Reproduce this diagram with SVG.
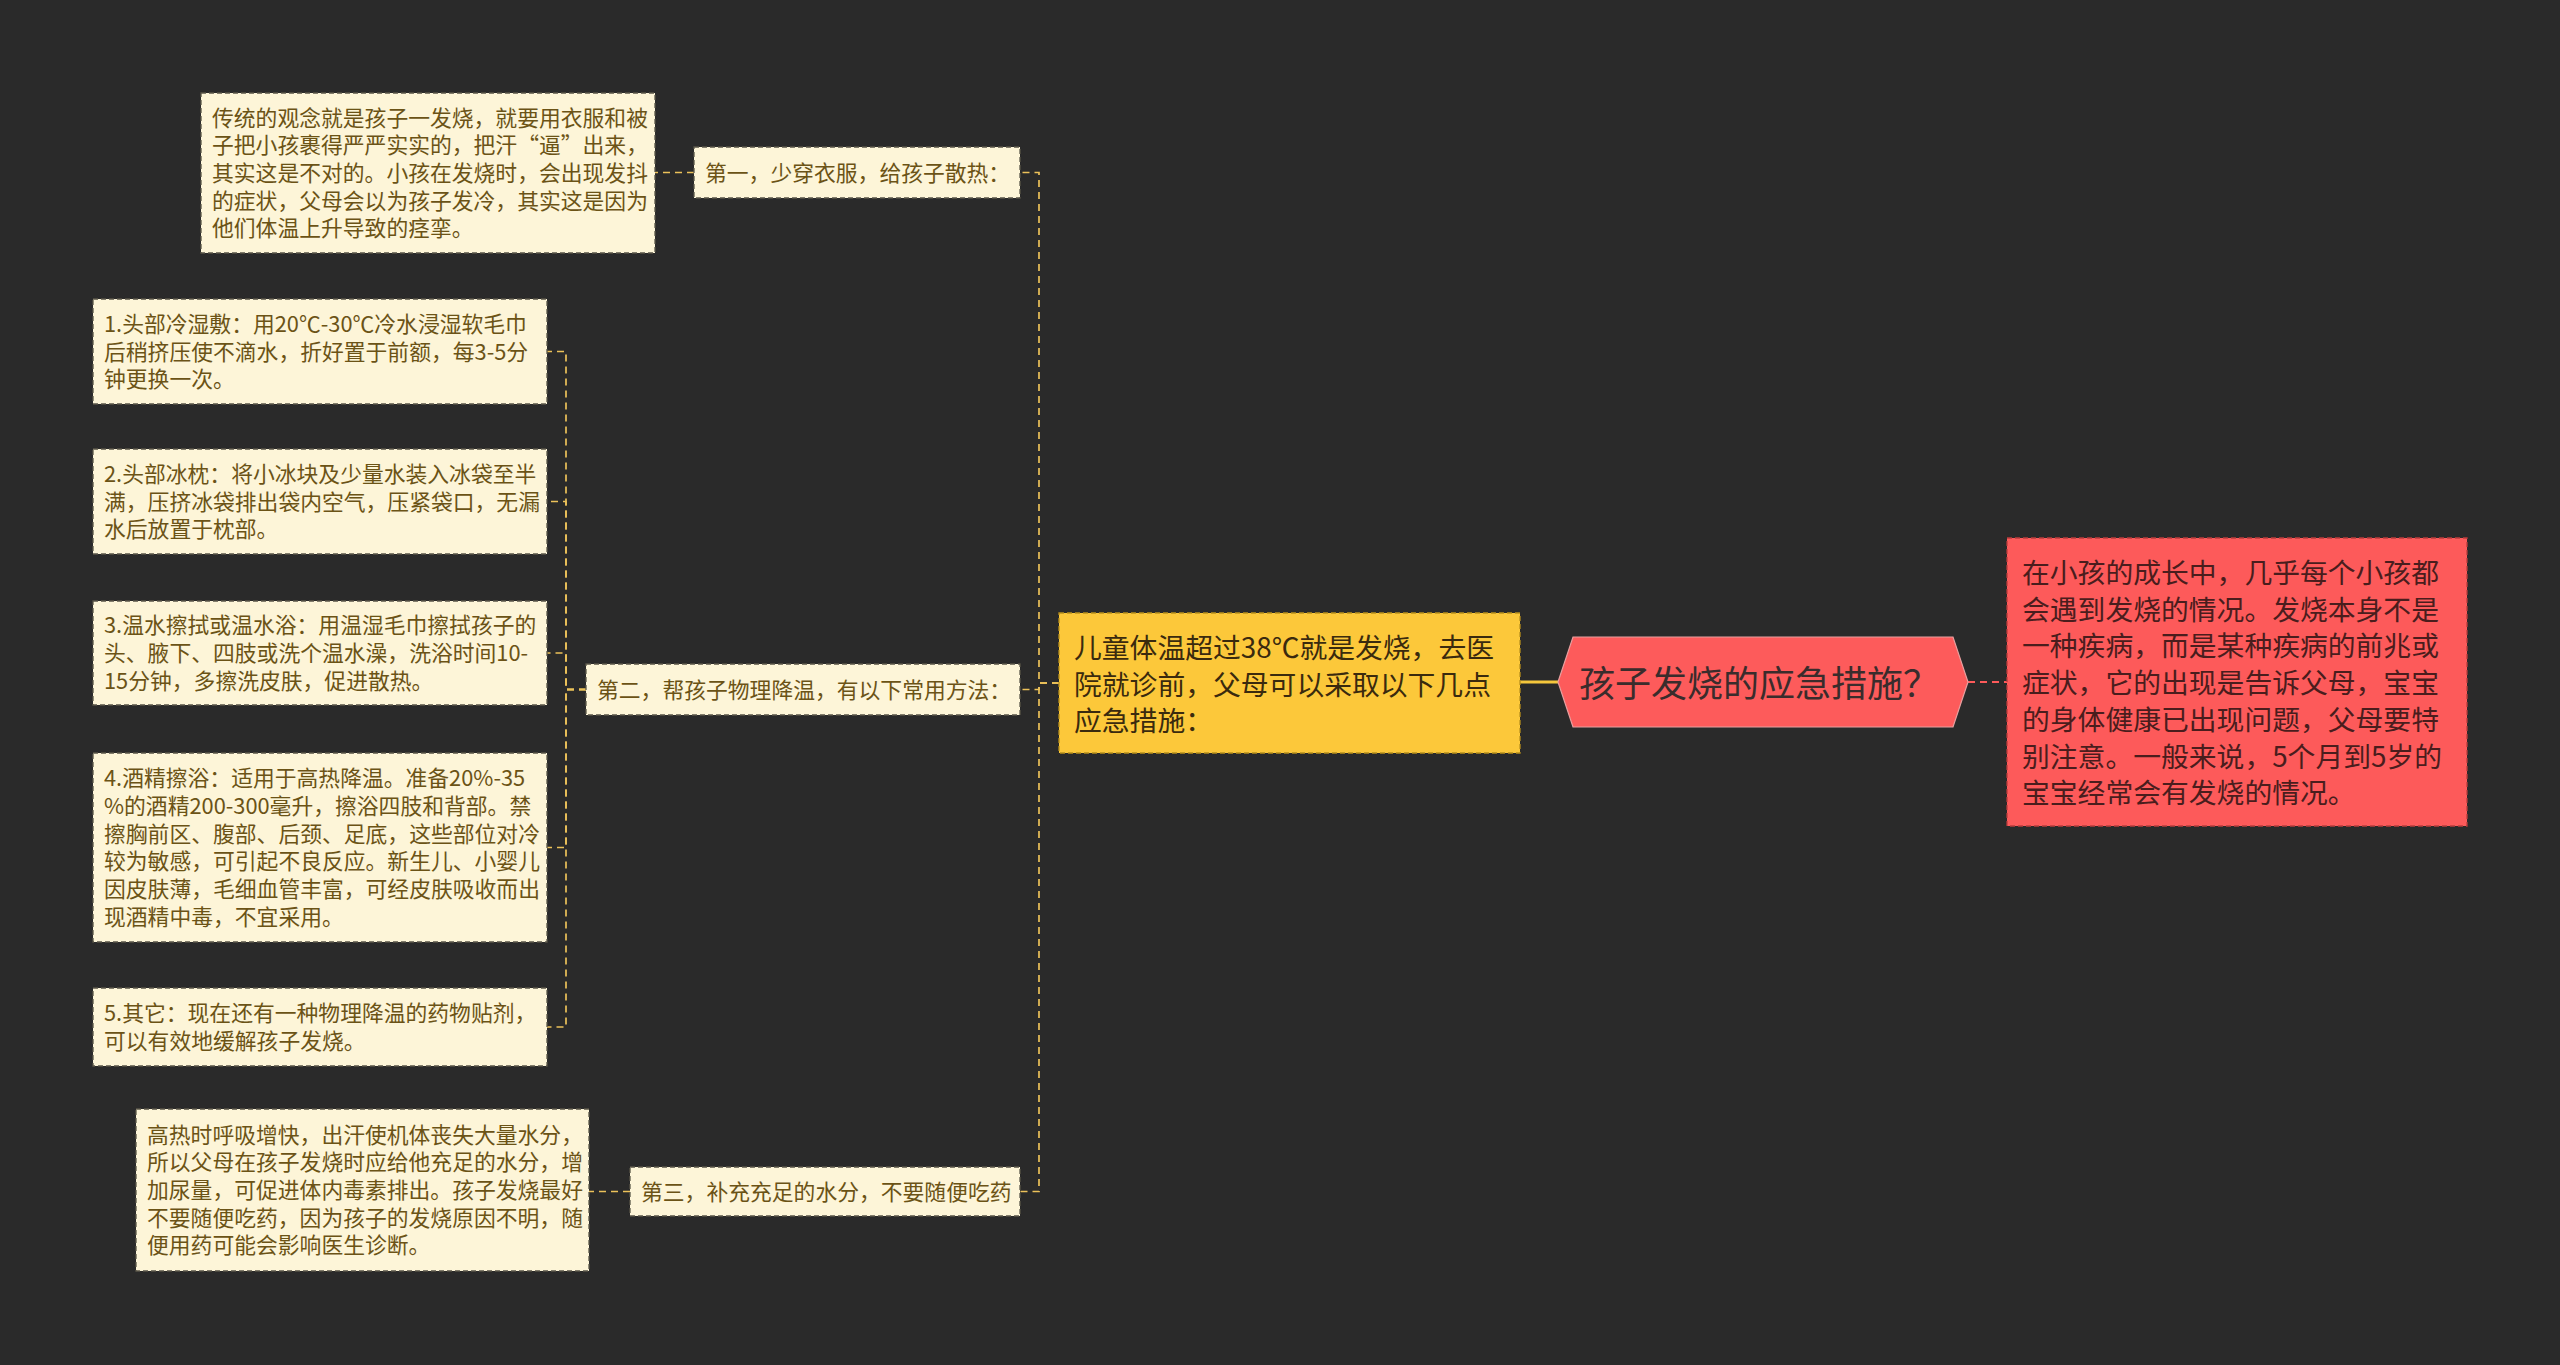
<svg xmlns="http://www.w3.org/2000/svg" width="2560" height="1365" viewBox="0 0 2560 1365">
<style>
.bg{fill:#2a2a2a}
.sn{fill:#fdf5d8;stroke:#5a5648;stroke-width:1.3;stroke-dasharray:5 3}
.st{font-family:"Noto Sans CJK SC","Noto Sans",sans-serif;font-size:21.8px;fill:#6b5316}
.yn{fill:#fcc83a;stroke:#b8901c;stroke-width:1.3;stroke-dasharray:5 3}
.yt{font-family:"Noto Sans CJK SC","Noto Sans",sans-serif;font-size:27.8px;fill:#3a2a0e}
.rn{fill:#fd5a5a;stroke:#b83c3c;stroke-width:1.3;stroke-dasharray:5 3}
.rt{font-family:"Noto Sans CJK SC","Noto Sans",sans-serif;font-size:27.8px;fill:#4a1d1d}
.ct{font-family:"Noto Sans CJK SC","Noto Sans",sans-serif;font-size:36px;fill:#3a2c2c}
.c{fill:none;stroke:#ecc15a;stroke-width:1.7;stroke-dasharray:7 5}
</style>
<rect class="bg" x="0" y="0" width="2560" height="1365"/>
<g id="connectors">
<path d="M1558 682 H1520" fill="none" stroke="#f5c73c" stroke-width="3"/>
<path d="M1968 682 H2007" fill="none" stroke="#fd5a5a" stroke-width="2" stroke-dasharray="7 5"/>
<path class="c" d="M1059 683 H1039 V172.5 H1020"/>
<path class="c" d="M1059 683 H1039 V689.5 H1020"/>
<path class="c" d="M1059 683 H1039 V1191.5 H1020"/>
<path class="c" d="M694 172.5 H655"/>
<path class="c" d="M630 1191.5 H589"/>
<path class="c" d="M586 689.5 H566 V351.5 H547"/>
<path class="c" d="M586 689.5 H566 V501.5 H547"/>
<path class="c" d="M586 689.5 H566 V653 H547"/>
<path class="c" d="M586 689.5 H566 V847.5 H547"/>
<path class="c" d="M586 689.5 H566 V1027 H547"/>
</g>
<g id="root">
<polygon points="1558,682 1573,637 1953,637 1968,682 1953,727 1573,727" fill="#fd5b5b" stroke="#e8a0a0" stroke-width="1.2"/>
<text class="ct" x="1579" y="697">孩子发烧的应急措施？</text>
</g>
<g id="intro">
<rect class="rn" x="2007" y="538" width="460" height="288"/>
<text class="rt" x="2022" y="583"><tspan x="2022">在小孩的成长中，几乎每个小孩都</tspan><tspan x="2022" dy="36.7">会遇到发烧的情况。发烧本身不是</tspan><tspan x="2022" dy="36.7">一种疾病，而是某种疾病的前兆或</tspan><tspan x="2022" dy="36.7">症状，它的出现是告诉父母，宝宝</tspan><tspan x="2022" dy="36.7">的身体健康已出现问题，父母要特</tspan><tspan x="2022" dy="36.7">别注意。一般来说，5个月到5岁的</tspan><tspan x="2022" dy="36.7">宝宝经常会有发烧的情况。</tspan></text>
</g>
<g id="main">
<rect class="yn" x="1059" y="613" width="461" height="140"/>
<text class="yt" x="1074" y="658"><tspan x="1074">儿童体温超过38℃就是发烧，去医</tspan><tspan x="1074" dy="36.7">院就诊前，父母可以采取以下几点</tspan><tspan x="1074" dy="36.7">应急措施：</tspan></text>
</g>
<g id="step1">
<rect class="sn" x="694" y="147" width="326" height="51"/>
<text class="st" x="705" y="181">第一，少穿衣服，给孩子散热：</text>
</g>
<g id="step1-detail">
<rect class="sn" x="201" y="93" width="454" height="160"/>
<text class="st" x="212" y="125.6"><tspan x="212">传统的观念就是孩子一发烧，就要用衣服和被</tspan><tspan x="212" dy="27.7">子把小孩裹得严严实实的，把汗“逼”出来，</tspan><tspan x="212" dy="27.7">其实这是不对的。小孩在发烧时，会出现发抖</tspan><tspan x="212" dy="27.7">的症状，父母会以为孩子发冷，其实这是因为</tspan><tspan x="212" dy="27.7">他们体温上升导致的痉挛。</tspan></text>
</g>
<g id="step2">
<rect class="sn" x="586" y="664" width="434" height="51"/>
<text class="st" x="597" y="698">第二，帮孩子物理降温，有以下常用方法：</text>
</g>
<g id="method1">
<rect class="sn" x="93" y="299" width="454" height="105"/>
<text class="st" x="104" y="331.8"><tspan x="104">1.头部冷湿敷：用20℃-30℃冷水浸湿软毛巾</tspan><tspan x="104" dy="27.7">后稍挤压使不滴水，折好置于前额，每3-5分</tspan><tspan x="104" dy="27.7">钟更换一次。</tspan></text>
</g>
<g id="method2">
<rect class="sn" x="93" y="449" width="454" height="105"/>
<text class="st" x="104" y="481.8"><tspan x="104">2.头部冰枕：将小冰块及少量水装入冰袋至半</tspan><tspan x="104" dy="27.7">满，压挤冰袋排出袋内空气，压紧袋口，无漏</tspan><tspan x="104" dy="27.7">水后放置于枕部。</tspan></text>
</g>
<g id="method3">
<rect class="sn" x="93" y="601" width="454" height="104"/>
<text class="st" x="104" y="633.3"><tspan x="104">3.温水擦拭或温水浴：用温湿毛巾擦拭孩子的</tspan><tspan x="104" dy="27.7">头、腋下、四肢或洗个温水澡，洗浴时间10-</tspan><tspan x="104" dy="27.7">15分钟，多擦洗皮肤，促进散热。</tspan></text>
</g>
<g id="method4">
<rect class="sn" x="93" y="753" width="454" height="189"/>
<text class="st" x="104" y="786.3"><tspan x="104">4.酒精擦浴：适用于高热降温。准备20%-35</tspan><tspan x="104" dy="27.7">%的酒精200-300毫升，擦浴四肢和背部。禁</tspan><tspan x="104" dy="27.7">擦胸前区、腹部、后颈、足底，这些部位对冷</tspan><tspan x="104" dy="27.7">较为敏感，可引起不良反应。新生儿、小婴儿</tspan><tspan x="104" dy="27.7">因皮肤薄，毛细血管丰富，可经皮肤吸收而出</tspan><tspan x="104" dy="27.7">现酒精中毒，不宜采用。</tspan></text>
</g>
<g id="method5">
<rect class="sn" x="93" y="988" width="454" height="78"/>
<text class="st" x="104" y="1021.2"><tspan x="104">5.其它：现在还有一种物理降温的药物贴剂，</tspan><tspan x="104" dy="27.7">可以有效地缓解孩子发烧。</tspan></text>
</g>
<g id="step3">
<rect class="sn" x="630" y="1167" width="390" height="49"/>
<text class="st" x="641" y="1200">第三，补充充足的水分，不要随便吃药</text>
</g>
<g id="step3-detail">
<rect class="sn" x="136" y="1109" width="453" height="162"/>
<text class="st" x="147" y="1142.6"><tspan x="147">高热时呼吸增快，出汗使机体丧失大量水分，</tspan><tspan x="147" dy="27.7">所以父母在孩子发烧时应给他充足的水分，增</tspan><tspan x="147" dy="27.7">加尿量，可促进体内毒素排出。孩子发烧最好</tspan><tspan x="147" dy="27.7">不要随便吃药，因为孩子的发烧原因不明，随</tspan><tspan x="147" dy="27.7">便用药可能会影响医生诊断。</tspan></text>
</g>
</svg>
